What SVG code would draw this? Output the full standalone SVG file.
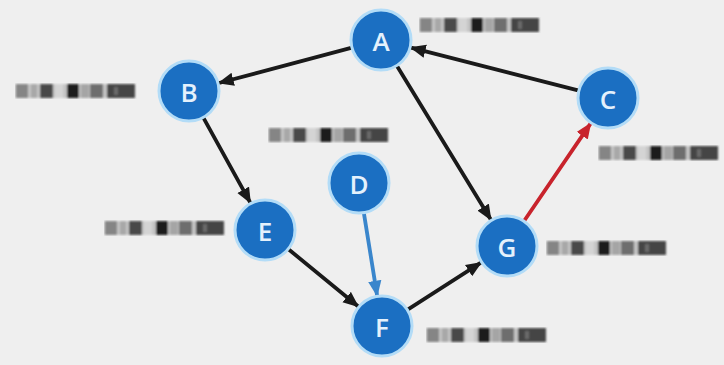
<svg xmlns="http://www.w3.org/2000/svg" width="724" height="365" viewBox="0 0 724 365">
  <style>
    .node circle { fill: #1b6fc2; stroke: #b3dcf7; stroke-width: 3; }
    .node text { fill: #e4f1fc; font-family: "Open Sans", "Liberation Sans", sans-serif; font-size: 26px; font-weight: 600; text-anchor: middle; dominant-baseline: central; }
    .edge { fill: none; stroke-width: 3.8; stroke-linecap: round; }
    .black { stroke: #1a1a1a; }
    .blue { stroke: #3a86cc; }
    .red { stroke: #c8232c; }
  </style>
  <defs>
    <filter id="soft" x="-5%" y="-30%" width="110%" height="160%">
      <feGaussianBlur stdDeviation="1.1"/>
    </filter>
    <marker id="ah-black" viewBox="0 0 12 10" refX="11" refY="5" markerWidth="16" markerHeight="14" markerUnits="userSpaceOnUse" orient="auto">
      <path d="M0,0 L12,5 L0,10 Z" fill="#1a1a1a"/>
    </marker>
    <marker id="ah-blue" viewBox="0 0 12 10" refX="11" refY="5" markerWidth="16" markerHeight="14" markerUnits="userSpaceOnUse" orient="auto">
      <path d="M0,0 L12,5 L0,10 Z" fill="#3a86cc"/>
    </marker>
    <marker id="ah-red" viewBox="0 0 12 10" refX="11" refY="5" markerWidth="16" markerHeight="14" markerUnits="userSpaceOnUse" orient="auto">
      <path d="M0,0 L12,5 L0,10 Z" fill="#c8232c"/>
    </marker>
    <!-- block-mark caption, 125 x 16 -->
    <symbol id="mark" viewBox="0 0 125 16" width="125" height="16">
      <g filter="url(#soft)">
        <rect x="0" y="1" width="120" height="14" fill="#c4c4c4"/>
        <rect x="1" y="1" width="12" height="14" fill="#858585"/>
        <rect x="16" y="1" width="6" height="14" fill="#a8a8a8"/>
        <rect x="25" y="1" width="13" height="14" fill="#4a4a4a"/>
        <rect x="40" y="1" width="8" height="14" fill="#d4d4d4"/>
        <rect x="52" y="1" width="12" height="14" fill="#1e1e1e"/>
        <rect x="66" y="1" width="8" height="14" fill="#a5a5a5"/>
        <rect x="75" y="1" width="13" height="14" fill="#6e6e6e"/>
        <rect x="92" y="1" width="28" height="14" fill="#444444"/>
        <rect x="99" y="4" width="4" height="8" fill="#6a6a6a"/>
      </g>
    </symbol>
  </defs>

  <rect width="724" height="365" fill="#efefef"/>

  <g id="connectors">
    <line class="edge black" x1="352" y1="47.7" x2="219" y2="83" marker-end="url(#ah-black)"/>
    <line class="edge black" x1="579" y1="90.6" x2="411" y2="47.7" marker-end="url(#ah-black)"/>
    <line class="edge black" x1="396.7" y1="65.6" x2="490.8" y2="219.6" marker-end="url(#ah-black)"/>
    <line class="edge black" x1="203.2" y1="117.4" x2="250.3" y2="202.7" marker-end="url(#ah-black)"/>
    <line class="edge black" x1="288.2" y1="249" x2="358" y2="306.3" marker-end="url(#ah-black)"/>
    <line class="edge black" x1="407.3" y1="309.8" x2="480.9" y2="262.7" marker-end="url(#ah-black)"/>
    <line class="edge blue" x1="363.8" y1="212.6" x2="377.1" y2="295.4" marker-end="url(#ah-blue)"/>
    <line class="edge red" x1="523.9" y1="221.2" x2="590.5" y2="123.6" marker-end="url(#ah-red)"/>
  </g>

  <g id="node-A" class="node">
    <circle cx="381" cy="40" r="30"/>
    <text x="381" y="41">A</text>
    <use href="#mark" x="419" y="17"/>
  </g>
  <g id="node-B" class="node">
    <circle cx="189" cy="91" r="30"/>
    <text x="189" y="92">B</text>
    <use href="#mark" x="15" y="83"/>
  </g>
  <g id="node-C" class="node">
    <circle cx="608" cy="98" r="30"/>
    <text x="608" y="99">C</text>
    <use href="#mark" x="598" y="145"/>
  </g>
  <g id="node-D" class="node">
    <circle cx="359" cy="183" r="30"/>
    <text x="359" y="184">D</text>
    <use href="#mark" x="268" y="127"/>
  </g>
  <g id="node-E" class="node">
    <circle cx="265" cy="230" r="30"/>
    <text x="265" y="231">E</text>
    <use href="#mark" x="104" y="220"/>
  </g>
  <g id="node-G" class="node">
    <circle cx="507" cy="246" r="30"/>
    <text x="507" y="247">G</text>
    <use href="#mark" x="546" y="240"/>
  </g>
  <g id="node-F" class="node">
    <circle cx="382" cy="326" r="30"/>
    <text x="382" y="327">F</text>
    <use href="#mark" x="426" y="327"/>
  </g>
</svg>
